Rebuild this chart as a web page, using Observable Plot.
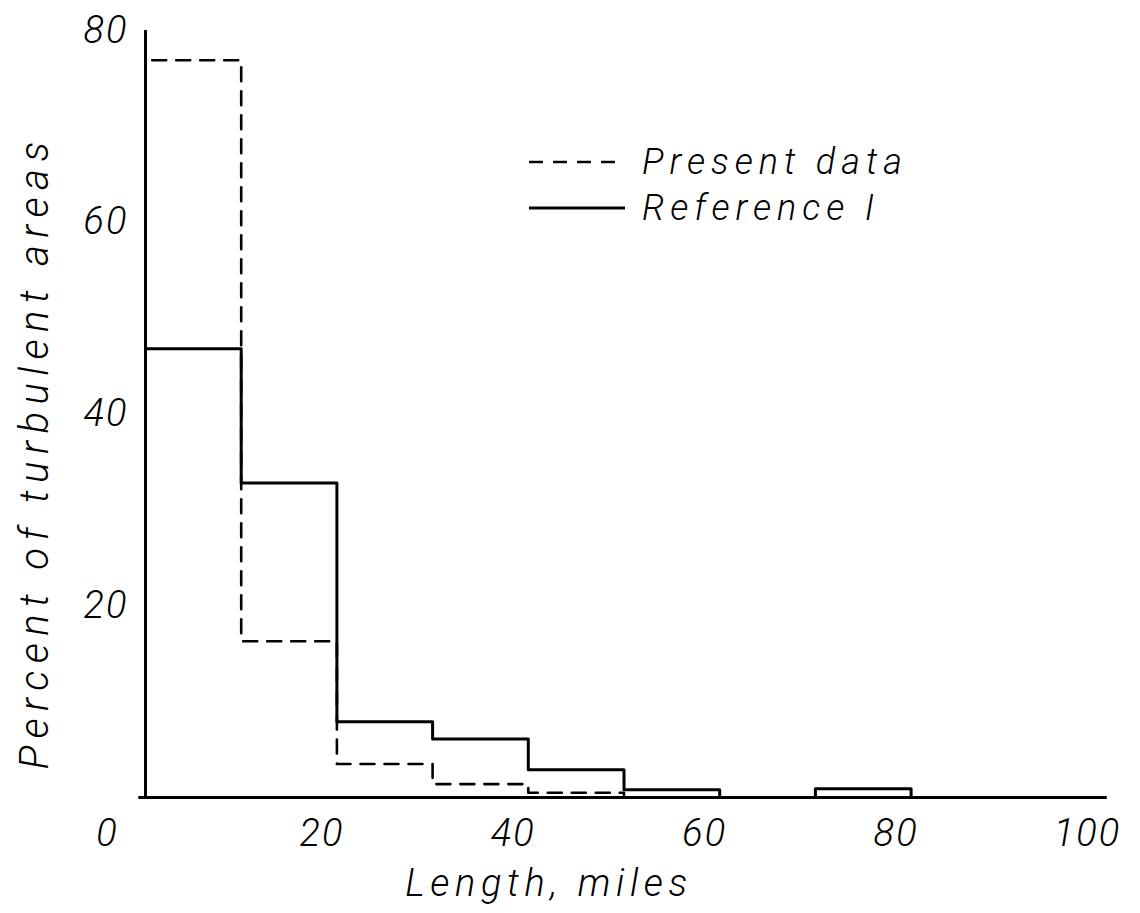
<!DOCTYPE html>
<html>
<head>
<meta charset="utf-8">
<script src="https://cdn.jsdelivr.net/npm/d3@7"></script>
<script src="https://cdn.jsdelivr.net/npm/@observablehq/plot@0.6"></script>
<style>
  html, body { margin: 0; padding: 0; background: #fff; }
  #wrap { position: relative; width: 1140px; height: 913px; }
  .hand { font-family: Roboto, "DejaVu Sans", sans-serif; font-style: italic; font-weight: 300; }
  #legend { position: absolute; left: 528px; top: 140px; }
  .row { position: absolute; left: 0; white-space: nowrap; font-size: 36px; color: #000; letter-spacing: 6px; }
  .row svg { position: absolute; left: 0; }
  .row span { position: absolute; left: 114px; }
</style>
</head>
<body>
<div id="wrap"></div>
<script>
// Bin edges (miles) and percentages
const edges = [0, 10, 20, 30, 40, 50, 60, 70, 80];
const presentData = [76.9, 16.3, 3.5, 1.4, 0.5, 0, 0, 0];
const reference1 = [46.8, 32.8, 7.9, 6.1, 2.9, 0.8, 0, 0.9];
const xTicks = [0, 20, 40, 60, 80, 100];
const yTicks = [20, 40, 60, 80];
const seriesNames = ["Present data", "Reference I"];

function stepPoints(values, name) {
  const pts = [{x: edges[0], y: 0, s: name}];
  values.forEach((v, i) => pts.push({x: edges[i], y: v, s: name}));
  pts.push({x: edges[edges.length - 1], y: 0, s: name});
  return pts;
}
const dashedPts = stepPoints(presentData, seriesNames[0]);
const solidPts = stepPoints(reference1, seriesNames[1]);

const font = "Roboto, DejaVu Sans, sans-serif";

const chart = Plot.plot({
  width: 1140,
  height: 913,
  marginLeft: 145,
  marginRight: 38,
  marginTop: 30,
  marginBottom: 116,
  style: { fontFamily: font, fontStyle: "italic", fontWeight: 300, background: "white", color: "black", overflow: "visible" },
  x: { domain: [0, 100] },
  y: { domain: [0, 80] },
  marks: [
    Plot.line(solidPts, { x: "x", y: "y", curve: "step-after", stroke: "black", strokeWidth: 3 }),
    Plot.line(dashedPts, { x: "x", y: "y", curve: "step-after", stroke: "black", strokeWidth: 2.6, strokeDasharray: "14,10" }),
    Plot.ruleX([0], { y1: 0, y2: 80, stroke: "black", strokeWidth: 3 }),
    Plot.ruleY([0], { x1: -0.7, x2: 100.5, stroke: "black", strokeWidth: 3 }),
    Plot.axisX(xTicks.filter(d => d !== 0), { tickSize: 0, tickPadding: 22, fontSize: 38, dx: -15, label: null }),
    Plot.axisX([0], { tickSize: 0, tickPadding: 22, fontSize: 38, dx: -38, label: null }),
    Plot.axisY(yTicks, { tickSize: 0, tickPadding: 17, fontSize: 38, label: null }),
    Plot.text(["Length, miles"], { frameAnchor: "bottom", dy: 98, dx: -75, fontSize: 38, text: d => d }),
    Plot.text(["Percent of turbulent areas"], { frameAnchor: "left", textAnchor: "middle", rotate: -90, dx: -110, dy: 38, fontSize: 40, text: d => d })
  ]
});
// widen the lettering a little, like the hand lettering of the reference
d3.select(chart).selectAll("text").filter(function () { return this.textContent === "Percent of turbulent areas"; })
  .style("letter-spacing", "7.5px");
d3.select(chart).selectAll("text").filter(function () { return this.textContent === "Length, miles"; })
  .style("letter-spacing", "5.6px");
d3.select(chart).selectAll("g[aria-label^='x-axis'] text, g[aria-label^='y-axis'] text").style("letter-spacing", "2px");
const wrap = document.getElementById("wrap");
wrap.appendChild(chart);

// Legend
const legend = document.createElement("div");
legend.id = "legend";
legend.className = "hand";
const styles = [
  { dash: "14,10", top: 0 },
  { dash: null, top: 46 }
];
seriesNames.forEach((name, i) => {
  const row = document.createElement("div");
  row.className = "row";
  row.style.top = styles[i].top + "px";
  const svg = d3.create("svg").attr("width", 100).attr("height", 44).style("top", "0px");
  svg.append("line").attr("x1", 1).attr("x2", 97).attr("y1", 22).attr("y2", 22)
    .attr("stroke", "black").attr("stroke-width", i === 0 ? 2.4 : 3)
    .attr("stroke-dasharray", styles[i].dash);
  row.appendChild(svg.node());
  const span = document.createElement("span");
  span.textContent = name;
  span.style.top = "0px";
  span.style.lineHeight = "44px";
  row.appendChild(span);
  legend.appendChild(row);
});
wrap.appendChild(legend);
</script>
</body>
</html>
